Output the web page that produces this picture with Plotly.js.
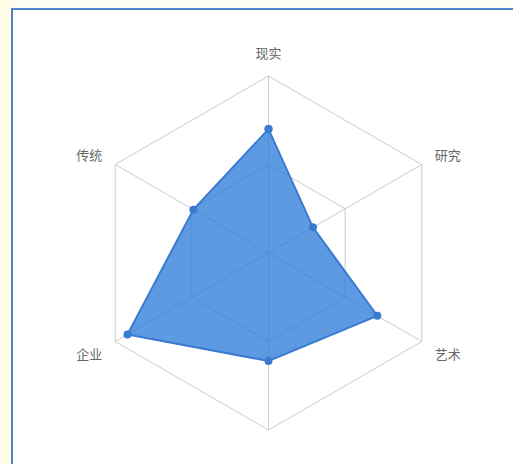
<!DOCTYPE html>
<html>
<head>
<meta charset="utf-8">
<script src="https://cdn.plot.ly/plotly-3.0.1.min.js"></script>
<style>
html,body{margin:0;padding:0;background:#fff;}
#chart{width:513px;height:464px;}
</style>
</head>
<body>
<div id="chart"></div>
<script>
const categories = ['现实', '研究', '艺术', '其他', '企业', '传统'];
const tickLabels = ['现实', '研究', '艺术', '', '企业', '传统'];
const values = [70, 29, 71, 61, 92, 49];

const W = 513, H = 464;
const cx = 268.5, cy = 253, R = 177;

const trace = {
  type: 'scatterpolar',
  r: values.concat([values[0]]),
  theta: categories.concat([categories[0]]),
  mode: 'lines+markers',
  fill: 'toself',
  fillcolor: 'rgba(40,120,215,0.75)',
  line: {color: '#3a7bd2', width: 2},
  marker: {color: '#3a7bd2', size: 8},
  hoverinfo: 'none'
};

const layout = {
  width: W, height: H,
  margin: {l: 0, r: 0, t: 0, b: 0},
  paper_bgcolor: '#ffffff',
  showlegend: false,
  font: {family: '"Noto Sans CJK SC", "Noto Sans", sans-serif', size: 13, color: '#666'},
  polar: {
    domain: {x: [(cx - R) / W, (cx + R) / W], y: [(H - cy - R) / H, (H - cy + R) / H]},
    gridshape: 'linear',
    bgcolor: 'rgba(0,0,0,0)',
    radialaxis: {
      range: [0, 100], tickvals: [50, 100], showticklabels: false,
      showline: false, ticks: '', gridcolor: '#cccccc', gridwidth: 1
    },
    angularaxis: {
      direction: 'clockwise', rotation: 90,
      categoryorder: 'array', categoryarray: categories,
      tickmode: 'array', tickvals: categories, ticktext: tickLabels,
      ticks: 'outside', ticklen: 12, tickcolor: 'rgba(0,0,0,0)',
      showline: true, linecolor: '#cccccc', linewidth: 1,
      gridcolor: '#cccccc', gridwidth: 1,
      tickfont: {size: 13, color: '#666'}
    }
  },
  shapes: [
    {type: 'rect', xref: 'paper', yref: 'paper', x0: 0, x1: 11 / W, y0: 0, y1: 1,
     fillcolor: '#fffde6', line: {width: 0}, layer: 'below'},
    {type: 'rect', xref: 'paper', yref: 'paper', x0: 11 / W, x1: 1, y0: 1 - 8 / H, y1: 1,
     fillcolor: '#fdfdf6', line: {width: 0}, layer: 'below'},
    {type: 'line', xref: 'paper', yref: 'paper', x0: 12 / W, x1: 12 / W, y0: 0, y1: 1 - 8 / H,
     line: {color: '#4f83cc', width: 2}, layer: 'below'},
    {type: 'line', xref: 'paper', yref: 'paper', x0: 11 / W, x1: 1, y0: 1 - 9 / H, y1: 1 - 9 / H,
     line: {color: '#4f83cc', width: 2}, layer: 'below'}
  ]
};

Plotly.newPlot('chart', [trace], layout, {displayModeBar: false, staticPlot: true});
</script>
</body>
</html>
